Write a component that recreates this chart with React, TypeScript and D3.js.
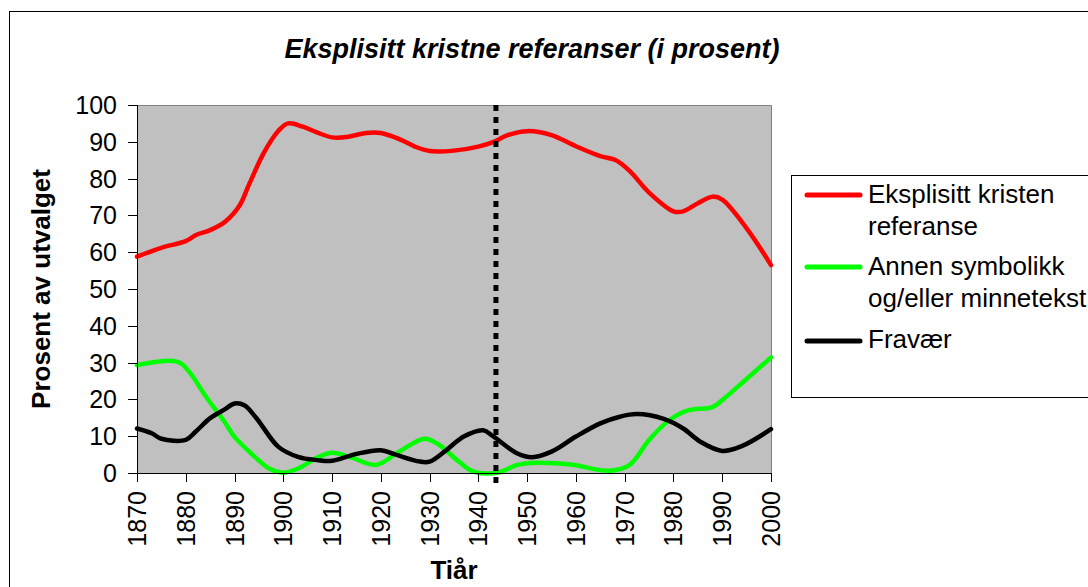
import React from "react";
import * as d3 from "d3";

const title = "Eksplisitt kristne referanser (i prosent)";
const yAxisTitle = "Prosent av utvalget";
const xAxisTitle = "Tiår";

const xTicks = [1870, 1880, 1890, 1900, 1910, 1920, 1930, 1940, 1950, 1960, 1970, 1980, 1990, 2000];
const yTicks = [0, 10, 20, 30, 40, 50, 60, 70, 80, 90, 100];

const markerYear = 1943.6;

const redYears = [1870, 1875, 1880, 1882, 1885, 1888, 1891, 1893, 1896, 1899, 1901, 1904, 1907, 1910, 1913, 1917, 1920, 1924, 1927, 1930, 1935, 1940, 1943, 1946, 1950, 1955, 1960, 1965, 1968, 1971, 1975, 1980, 1982, 1985, 1988, 1990, 1995, 2000];
const redValues = [58.8, 61.2, 63.0, 64.6, 66.0, 68.2, 72.6, 78.5, 87.0, 93.0, 95.0, 94.1, 92.5, 91.2, 91.3, 92.4, 92.4, 90.6, 88.7, 87.5, 87.6, 88.7, 89.9, 91.8, 92.9, 91.8, 88.8, 86.1, 85.1, 82.1, 76.2, 71.1, 71.1, 73.3, 75.1, 74.3, 66.5, 56.5];

const greenYears = [1870, 1873, 1877, 1879, 1881, 1884, 1888, 1890, 1894, 1897, 1900, 1903, 1907, 1910, 1914, 1919, 1924, 1929, 1932, 1936, 1939, 1944, 1948, 1952, 1959, 1967, 1971, 1975, 1979, 1983, 1988, 1990, 1994, 2000];
const greenValues = [29.3, 30.0, 30.5, 29.8, 27.0, 21.0, 13.8, 9.8, 4.6, 1.3, 0.1, 1.2, 4.2, 5.5, 4.2, 2.2, 6.0, 9.3, 7.6, 3.1, 0.4, 0.1, 2.2, 2.8, 2.3, 0.6, 2.2, 9.0, 14.2, 17.0, 17.9, 19.8, 24.4, 31.4];

const blackYears = [1870, 1873, 1875, 1880, 1882, 1885, 1888, 1890, 1892, 1894.5, 1899, 1903, 1907, 1910, 1915, 1920, 1923, 1928, 1930, 1933.5, 1937, 1941, 1943, 1948, 1951, 1955, 1960, 1965, 1969, 1972.5, 1978, 1982, 1985.5, 1990, 1994, 2000];
const blackValues = [12.1, 10.8, 9.3, 9.0, 11.2, 14.9, 17.3, 18.9, 18.4, 14.9, 7.1, 4.4, 3.5, 3.3, 5.2, 6.2, 5.0, 3.1, 3.1, 6.3, 9.9, 11.6, 10.0, 5.3, 4.3, 5.8, 9.9, 13.5, 15.3, 16.0, 14.7, 12.1, 8.5, 6.0, 7.3, 11.9];

const seriesNames = ["Eksplisitt kristen\nreferanse", "Annen symbolikk\nog/eller minnetekst", "Fravær"];
const seriesColors = ["#ff0000", "#00ff00", "#000000"];

const W = 1088;
const H = 587;
const plot = { left: 137, right: 771, top: 105, bottom: 473 };
const FONT = "'Liberation Sans', Arial, Helvetica, sans-serif";

export default function App() {
  const x = d3.scaleLinear().domain([1870, 2000]).range([plot.left, plot.right]);
  const y = d3.scaleLinear().domain([0, 100]).range([plot.bottom, plot.top]);
  const line = d3
    .line<[number, number]>()
    .x((d) => x(d[0]))
    .y((d) => y(d[1]))
    .curve(d3.curveCatmullRom.alpha(0.5));

  const series = [
    { years: redYears, values: redValues },
    { years: greenYears, values: greenValues },
    { years: blackYears, values: blackValues },
  ];

  const legendX = 791.5;
  const legendY = 175.5;
  const entryBaselines = [[203, 235], [275, 307], [348]];
  const lineYs = [195, 267, 341];

  return (
    <svg
      width={W}
      height={H}
      style={{ position: "absolute", left: 0, top: 0, background: "#fff" }}
      fontFamily={FONT}
    >
      <rect x={9.5} y={11.5} width={W + 50} height={H + 50} fill="#fff" stroke="#000" strokeWidth={1} />
      <text x={532} y={58} textAnchor="middle" fontSize={27} fontWeight="bold" fontStyle="italic" fill="#000">
        {title}
      </text>

      <rect x={plot.left} y={plot.top} width={plot.right - plot.left} height={plot.bottom - plot.top} fill="#c0c0c0" />
      <path d={`M${plot.left},${plot.top + 0.5}H${plot.right + 0.5}V${plot.bottom}`} fill="none" stroke="#808080" strokeWidth={1} />

      {series.map((s, i) => (
        <path
          key={i}
          d={line(s.years.map((yr, j) => [yr, s.values[j]] as [number, number])) || ""}
          fill="none"
          stroke={seriesColors[i]}
          strokeWidth={4.5}
          strokeLinejoin="round"
          strokeLinecap="round"
        />
      ))}

      <line
        x1={x(markerYear)}
        x2={x(markerYear)}
        y1={y(100)}
        y2={plot.bottom + 10}
        stroke="#000"
        strokeWidth={5}
        strokeDasharray="6 6"
      />

      {/* axes */}
      <line x1={plot.left + 0.5} x2={plot.left + 0.5} y1={plot.top} y2={plot.bottom} stroke="#000" />
      <line x1={plot.left} x2={plot.right + 1} y1={plot.bottom + 0.5} y2={plot.bottom + 0.5} stroke="#000" />
      {yTicks.map((t) => (
        <g key={t}>
          <line x1={plot.left - 9} x2={plot.left} y1={Math.round(y(t)) + 0.5} y2={Math.round(y(t)) + 0.5} stroke="#000" />
          <text x={117} y={y(t)} dy="0.36em" textAnchor="end" fontSize={25} fill="#000">
            {t}
          </text>
        </g>
      ))}
      {xTicks.map((t) => (
        <g key={t}>
          <line x1={Math.round(x(t)) + 0.5} x2={Math.round(x(t)) + 0.5} y1={plot.bottom} y2={plot.bottom + 9} stroke="#000" />
          <text
            transform={`translate(${x(t)},${491}) rotate(-90)`}
            dy="0.36em"
            textAnchor="end"
            fontSize={25}
            fill="#000"
          >
            {t}
          </text>
        </g>
      ))}

      <text transform={`translate(50,${(plot.top + plot.bottom) / 2}) rotate(-90)`} textAnchor="middle" fontSize={26} fontWeight="bold" fill="#000">
        {yAxisTitle}
      </text>
      <text x={454} y={579} textAnchor="middle" fontSize={26} fontWeight="bold" fill="#000">
        {xAxisTitle}
      </text>

      {/* legend */}
      <rect x={legendX} y={legendY} width={400} height={222} fill="#fff" stroke="#000" strokeWidth={1} />
      {seriesNames.map((name, i) => (
        <g key={i}>
          <line x1={807} x2={860} y1={lineYs[i]} y2={lineYs[i]} stroke={seriesColors[i]} strokeWidth={5} strokeLinecap="round" />
          {name.split("\n").map((ln, k) => (
            <text key={k} x={868} y={entryBaselines[i][k]} fontSize={26} fill="#000">
              {ln}
            </text>
          ))}
        </g>
      ))}
    </svg>
  );
}
